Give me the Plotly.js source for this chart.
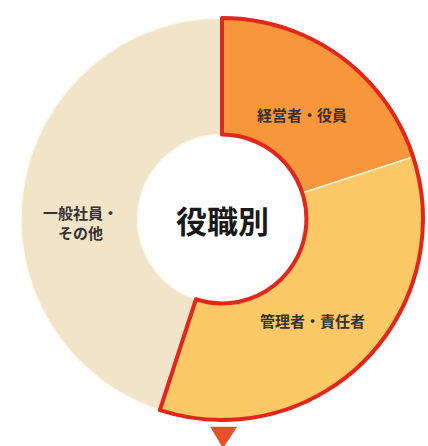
<!DOCTYPE html>
<html><head><meta charset="utf-8">
<script src="https://cdn.plot.ly/plotly-3.0.1.min.js"></script>
<style>html,body{margin:0;padding:0;background:#fff;}#chart{width:428px;height:446px;}</style>
</head><body><div id="chart"></div>
<script>
const categories = ['経営者・役員', '管理者・責任者', '一般社員・<br>その他'];
const values = [20, 35, 45];
const colors = ['#f7963a', '#fdc966', '#f2e4c8'];
const centerTitle = '役職別';

const cx = 222 / 428;
const dom = {x: [cx - 201 / 428, cx + 201 / 428], y: [0.058, 0.96]};
const fontFam = '"Noto Sans CJK JP", "Noto Sans", sans-serif';

const base = {
  type: 'pie', values: values, labels: categories, sort: false, direction: 'clockwise', rotation: 0,
  hole: 0.42, domain: dom,
  marker: {colors: colors, line: {color: '#fff7e8', width: 1.5}},
  textinfo: 'none',
  hoverinfo: 'none', showlegend: false
};
const outline = {
  type: 'pie', values: [values[0] + values[1], values[2]], labels: ['a', 'b'], sort: false, direction: 'clockwise', rotation: 0,
  hole: 0.42, domain: dom,
  marker: {colors: ['rgba(0,0,0,0)', 'rgba(0,0,0,0)'], line: {color: ['#e2261b', 'rgba(0,0,0,0)'], width: [4, 0]}},
  textinfo: 'none', hoverinfo: 'none', showlegend: false
};
const labelPos = [[302, 114], [312, 320], [80, 222]];
const ann = categories.map((c, i) => ({
  text: c, x: labelPos[i][0] / 428, y: 1 - labelPos[i][1] / 446, xref: 'paper', yref: 'paper', showarrow: false,
  xanchor: 'center', yanchor: 'middle',
  font: {family: fontFam, size: 15, color: '#333', weight: 'bold'}
}));
ann.push({text: centerTitle, x: cx, y: 1 - 219 / 446, xref: 'paper', yref: 'paper', showarrow: false,
  xanchor: 'center', yanchor: 'middle',
  font: {family: fontFam, size: 31, color: '#1a1a1a', weight: 'bold'}});
const layout = {
  width: 428, height: 446, margin: {l: 0, r: 0, t: 0, b: 0},
  paper_bgcolor: '#fff',
  annotations: ann,
  shapes: [{type: 'path', xref: 'paper', yref: 'paper', path: 'M 0.491 0.043 L 0.554 0.043 L 0.521 -0.005 Z',
    fillcolor: '#e8502a', line: {width: 0}}]
};
Plotly.newPlot('chart', [base, outline], layout, {staticPlot: true});
</script></body></html>
